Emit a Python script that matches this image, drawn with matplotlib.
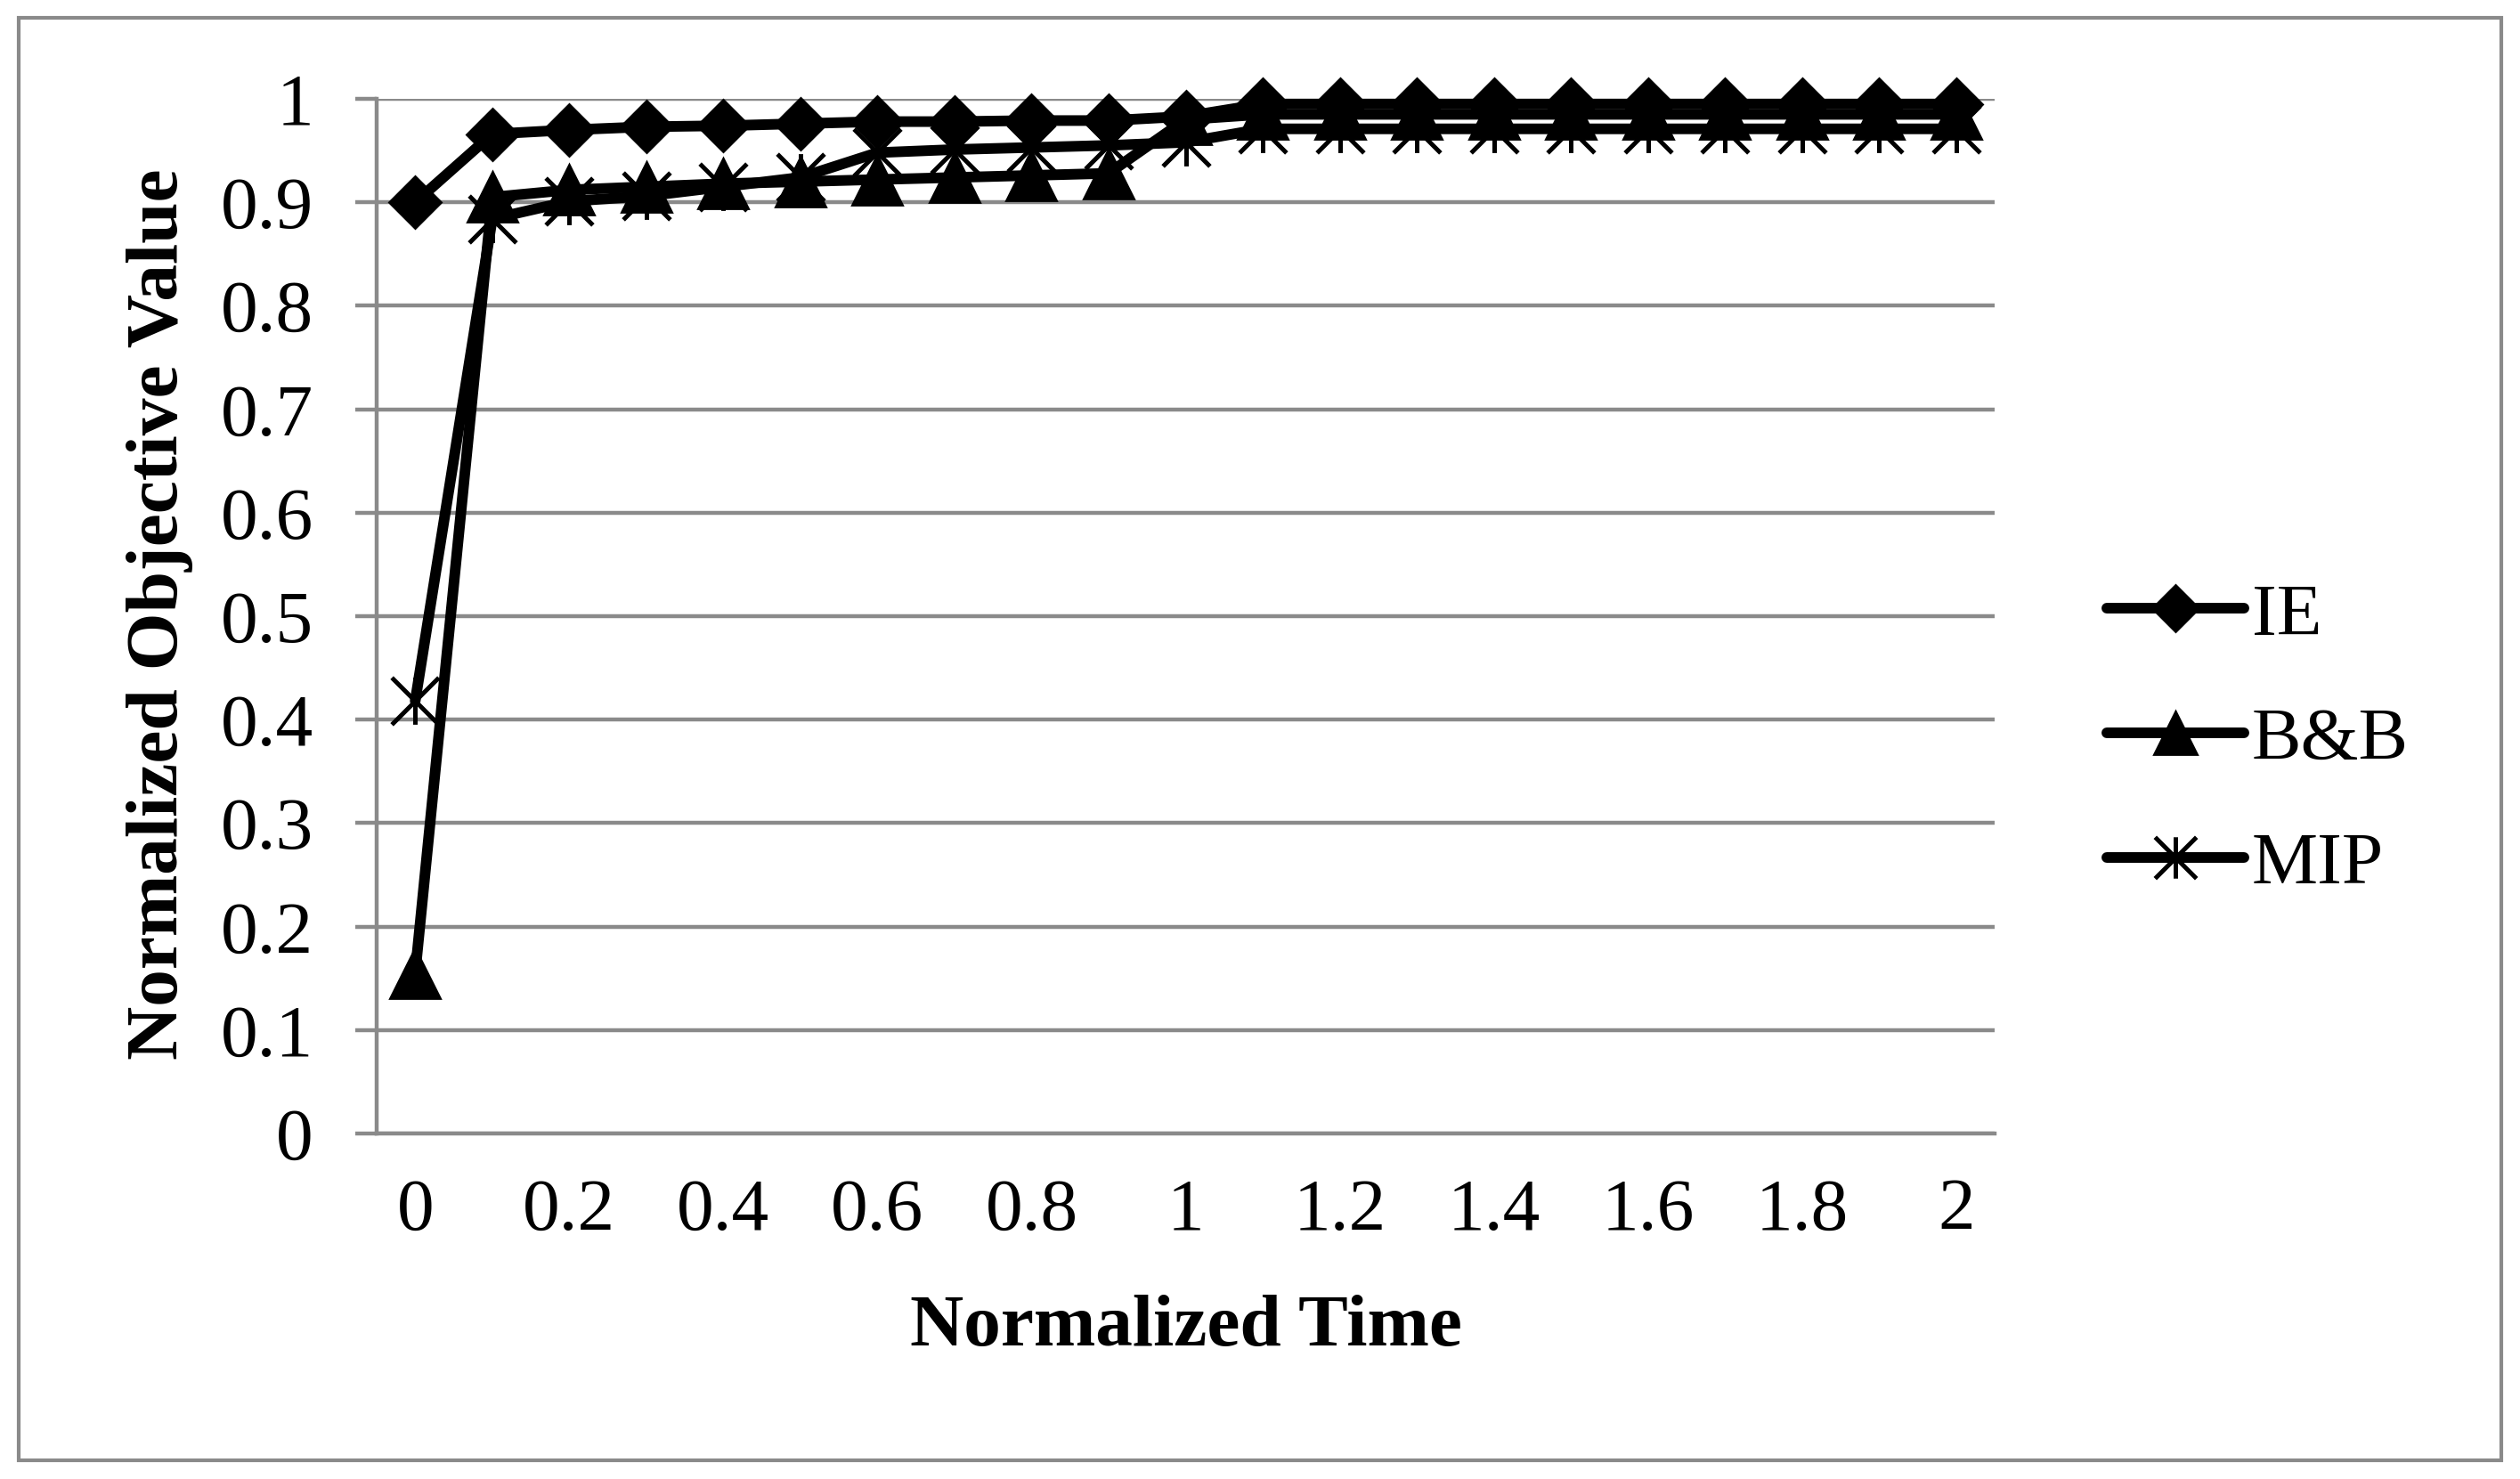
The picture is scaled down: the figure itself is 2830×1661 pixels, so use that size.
import matplotlib
matplotlib.use('Agg')
from matplotlib import pyplot as plt
from matplotlib import rcParams
from matplotlib.path import Path
from matplotlib.patches import Rectangle

# ------------------------------------------------------------------------------
# Data
# ------------------------------------------------------------------------------
norm_time = [0.0, 0.1, 0.2, 0.3, 0.4, 0.5, 0.6, 0.7, 0.8, 0.9, 1.0,
             1.1, 1.2, 1.3, 1.4, 1.5, 1.6, 1.7, 1.8, 1.9, 2.0]

ie = [0.900, 0.966, 0.970, 0.973, 0.974, 0.976, 0.978, 0.978, 0.979, 0.979,
      0.983, 0.995, 0.995, 0.995, 0.995, 0.995, 0.995, 0.995, 0.995, 0.995,
      0.995]

bnb = [0.155, 0.905, 0.912, 0.915, 0.918, 0.920, 0.922, 0.924, 0.926, 0.928,
       0.980, 0.985, 0.985, 0.985, 0.985, 0.985, 0.985, 0.985, 0.985, 0.985,
       0.985]

mip = [0.418, 0.884, 0.901, 0.906, 0.915, 0.924, 0.948, 0.951, 0.953, 0.955,
       0.958, 0.971, 0.971, 0.971, 0.971, 0.971, 0.971, 0.971, 0.971, 0.971,
       0.971]

x_ticks = [0, 0.2, 0.4, 0.6, 0.8, 1.0, 1.2, 1.4, 1.6, 1.8, 2.0]
x_tick_labels = ['0', '0.2', '0.4', '0.6', '0.8', '1', '1.2', '1.4', '1.6',
                 '1.8', '2']
y_ticks = [0, 0.1, 0.2, 0.3, 0.4, 0.5, 0.6, 0.7, 0.8, 0.9, 1.0]
y_tick_labels = ['0', '0.1', '0.2', '0.3', '0.4', '0.5', '0.6', '0.7', '0.8',
                 '0.9', '1']

# ------------------------------------------------------------------------------
# Plotting
# ------------------------------------------------------------------------------
rcParams['font.family'] = ['Liberation Serif', 'DejaVu Serif']
rcParams['font.size'] = 30

W, H = 2830, 1661
DPI = 200
GRAY = '#8a8a8a'

fig = plt.figure(figsize=(W / DPI, H / DPI), dpi=DPI)
ax = fig.add_axes([423 / W, 1 - 1273 / H, (2240 - 423) / W, (1273 - 111) / H])

# Excel style asterisk: vertical bar plus an X
star = Path([(0, -1), (0, 1), (-1, -1), (1, 1), (-1, 1), (1, -1)],
            [Path.MOVETO, Path.LINETO, Path.MOVETO, Path.LINETO,
             Path.MOVETO, Path.LINETO])

line_kw = dict(color='black', linewidth=4.3, solid_capstyle='round',
               solid_joinstyle='round', clip_on=False)

ax.plot(norm_time, ie, marker='D', markersize=15, markeredgewidth=1,
        markerfacecolor='black', markeredgecolor='black', label='IE',
        zorder=3, **line_kw)
ax.plot(norm_time, bnb, marker='^', markersize=20, markeredgewidth=1,
        markerfacecolor='black', markeredgecolor='black', label='B&B',
        zorder=4, **line_kw)
ax.plot(norm_time, mip, marker=star, markersize=19, markeredgewidth=1.8,
        markerfacecolor='none', markeredgecolor='black', label='MIP',
        zorder=5, **line_kw)

ax.set_xlim(-0.05, 2.05)
ax.set_ylim(0, 1)
ax.set_xticks(x_ticks)
ax.set_xticklabels(x_tick_labels)
ax.set_yticks(y_ticks)
ax.set_yticklabels(y_tick_labels)

ax.grid(axis='y', color=GRAY, linewidth=1.6, zorder=0)
ax.set_axisbelow(True)
for side in ['top', 'right']:
    ax.spines[side].set_visible(False)
for side in ['left', 'bottom']:
    ax.spines[side].set_color(GRAY)
    ax.spines[side].set_linewidth(1.6)

ax.tick_params(axis='y', direction='out', length=8.6, width=1.6, color=GRAY,
               pad=17, labelsize=30)
ax.tick_params(axis='x', length=0, pad=18, labelsize=30)

fig.text(180 / W, 1 - 690 / H, 'Normalized Objective Value', rotation=90,
         ha='center', va='center', fontsize=30, fontweight='bold')
fig.text(1332 / W, 1 - 1491 / H, 'Normalized Time', ha='center', va='center',
         fontsize=30, fontweight='bold')

leg = ax.legend(loc='center left', bbox_to_anchor=(2366 / W, 1 - 832 / H),
                bbox_transform=fig.transFigure, frameon=False, fontsize=30,
                borderpad=0, borderaxespad=0, handlelength=1.85,
                handletextpad=0.1, labelspacing=0.76, markerscale=0.88)

# outer chart border
fig.patches.append(Rectangle((21 / W, 1 - 1640 / H), (2809 - 21) / W,
                             (1640 - 20) / H, transform=fig.transFigure,
                             fill=False, edgecolor=GRAY, linewidth=1.5))

plt.savefig('out.png', dpi=DPI)
